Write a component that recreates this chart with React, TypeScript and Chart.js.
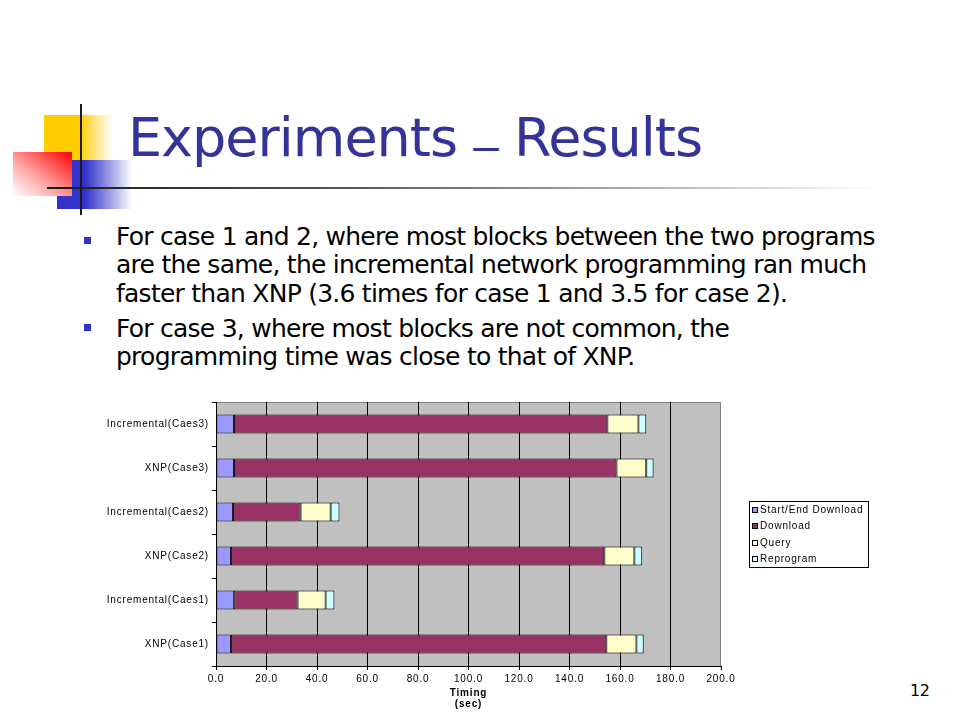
import React, { useEffect, useRef } from 'react';
import { Chart, registerables } from 'chart.js';

Chart.register(...registerables);

// ---- data ----
const categories = [
  'Incremental(Caes3)',
  'XNP(Case3)',
  'Incremental(Caes2)',
  'XNP(Case2)',
  'Incremental(Caes1)',
  'XNP(Case1)',
];
const seriesNames = ['Start/End Download', 'Download', 'Query', 'Reprogram'];
const startEndDownload = [7.1, 7.1, 6.7, 5.9, 7.2, 5.9];
const downloadTime = [147.9, 151.5, 26.8, 147.9, 25.1, 148.7];
const queryTime = [12.3, 11.8, 11.9, 11.9, 11.1, 11.9];
const reprogramTime = [3.1, 2.9, 3.5, 3.1, 3.5, 2.9];
const seriesColors = ['#9999ff', '#993366', '#ffffcc', '#ccffff'];
const xTickValues = [0, 20, 40, 60, 80, 100, 120, 140, 160, 180, 200];
const axisTitle = ['Timing', '(sec)'];

const bullets = [
  [
    'For case 1 and 2, where most blocks between the two programs',
    'are the same, the incremental network programming ran much',
    'faster than XNP (3.6 times for case 1 and 3.5 for case 2).',
  ],
  [
    'For case 3, where most blocks are not common, the',
    'programming time was close to that of XNP.',
  ],
];

const LETTER = '0.8px';
const FONT = '"Liberation Sans", Arial, sans-serif';

const excelPlot = {
  id: 'excelPlot',
  beforeLayout(chart: any) {
    chart.ctx.letterSpacing = LETTER;
  },
  beforeDraw(chart: any) {
    const { ctx, chartArea: a } = chart;
    ctx.letterSpacing = LETTER;
    ctx.save();
    ctx.fillStyle = '#c0c0c0';
    ctx.fillRect(a.left, a.top, a.right - a.left, a.bottom - a.top);
    ctx.strokeStyle = '#808080';
    ctx.lineWidth = 1;
    ctx.beginPath();
    ctx.moveTo(a.left, a.top + 0.5);
    ctx.lineTo(a.right - 0.5, a.top + 0.5);
    ctx.lineTo(a.right - 0.5, a.bottom);
    ctx.stroke();
    ctx.restore();
  },
  afterDraw(chart: any) {
    const { ctx, chartArea: a } = chart;
    const ds = chart.data.datasets;
    const rowH = 16.5;
    const boxW = 119;
    const boxH = Math.round(rowH * ds.length);
    const left = Math.round(a.right + 28);
    const top = Math.round((a.top + a.bottom) / 2 - boxH / 2);
    ctx.save();
    ctx.letterSpacing = LETTER;
    ctx.fillStyle = '#ffffff';
    ctx.fillRect(left, top, boxW, boxH);
    ctx.strokeStyle = '#000000';
    ctx.lineWidth = 1;
    ctx.strokeRect(left + 0.5, top + 0.5, boxW, boxH);
    ctx.font = `10px ${FONT}`;
    ctx.textBaseline = 'middle';
    ctx.textAlign = 'left';
    ds.forEach((d: any, i: number) => {
      const cy = top + rowH * (i + 0.5);
      const my = Math.round(cy - 2.5);
      ctx.fillStyle = d.backgroundColor;
      ctx.fillRect(left + 3, my, 5, 5);
      ctx.strokeStyle = '#000';
      ctx.strokeRect(left + 3.5, my + 0.5, 5, 5);
      ctx.fillStyle = '#000';
      ctx.fillText(d.label, left + 11, cy + 0.5);
    });
    ctx.restore();
  },
};

function BarChart() {
  const ref = useRef<HTMLCanvasElement>(null);
  useEffect(() => {
    if (!ref.current) return;
    Chart.defaults.font.family = FONT;
    const values = [startEndDownload, downloadTime, queryTime, reprogramTime];
    const chart = new Chart(ref.current, {
      type: 'bar',
      data: {
        labels: categories,
        datasets: seriesNames.map((name, i) => ({
          label: name,
          data: values[i],
          backgroundColor: seriesColors[i],
          borderColor: '#000000',
          borderWidth: 1,
          borderSkipped: false,
          barPercentage: 0.43,
          categoryPercentage: 1,
        })),
      },
      options: {
        indexAxis: 'y',
        animation: false,
        responsive: false,
        devicePixelRatio: 1,
        layout: { padding: { left: 0, top: 12, right: 159, bottom: 0 } },
        plugins: {
          legend: { display: false },
          tooltip: { enabled: false },
        },
        scales: {
          x: {
            stacked: true,
            min: 0,
            max: 200,
            afterBuildTicks: (scale: any) => {
              scale.ticks = xTickValues.map((v) => ({ value: v }));
            },
            afterFit: (scale: any) => {
              scale.height = 48;
            },
            ticks: {
              color: '#000',
              font: { size: 10 },
              padding: 3,
              maxRotation: 0,
              autoSkip: false,
              callback: (v: any) => Number(v).toFixed(1),
            },
            grid: {
              color: (c: any) => (c.tick && c.tick.value === 200 ? 'rgba(0,0,0,0)' : '#000'),
              tickColor: '#000',
              tickLength: 4,
              lineWidth: 1,
            },
            border: { display: true, color: '#000' },
            title: {
              display: true,
              text: axisTitle,
              color: '#000',
              font: { size: 10, weight: 'bold', lineHeight: 1.1 },
              padding: { top: 0, bottom: 4 },
            },
          },
          y: {
            stacked: true,
            afterFit: (scale: any) => {
              scale.width = 116;
            },
            ticks: { color: '#000', font: { size: 10 }, padding: 3 },
            grid: {
              display: true,
              offset: true,
              drawOnChartArea: false,
              drawTicks: true,
              tickLength: 4,
              color: '#000',
              tickColor: '#000',
            },
            border: { display: true, color: '#000' },
          },
        },
      },
      plugins: [excelPlot],
    } as any);
    return () => chart.destroy();
  }, []);
  return (
    <canvas
      ref={ref}
      width={780}
      height={324}
      style={{ position: 'absolute', left: 100, top: 390, width: 780, height: 324 }}
    />
  );
}

export default function App() {
  const textFont = '"DejaVu Sans", Verdana, sans-serif';
  return (
    <div
      style={{
        position: 'absolute',
        left: 0,
        top: 0,
        width: 960,
        height: 720,
        background: '#ffffff',
        overflow: 'hidden',
        fontFamily: textFont,
      }}
    >
      {/* logo decoration */}
      <div
        style={{
          position: 'absolute',
          left: 44,
          top: 115,
          width: 68,
          height: 45,
          background: 'linear-gradient(to right, #ffcc00 0%, #ffcc00 52%, rgba(255,204,0,0) 100%)',
        }}
      />
      <div
        style={{
          position: 'absolute',
          left: 57,
          top: 160,
          width: 75,
          height: 49,
          background: 'linear-gradient(to right, #3333cc 0%, #3333cc 38%, rgba(51,51,204,0) 100%)',
        }}
      />
      <div
        style={{
          position: 'absolute',
          left: 13,
          top: 152,
          width: 59,
          height: 44,
          background: 'linear-gradient(to top right, rgba(255,255,255,1) 0%, #ffaaaa 40%, #ff0000 100%)',
        }}
      />
      <div style={{ position: 'absolute', left: 80, top: 104, width: 2, height: 111, background: '#1a1a1a' }} />
      <div
        style={{
          position: 'absolute',
          left: 47,
          top: 187,
          width: 830,
          height: 2,
          background: 'linear-gradient(to right, #1a1a1a 0%, #555555 35%, #aaaaaa 70%, rgba(255,255,255,0) 100%)',
        }}
      />

      {/* title */}
      <div
        style={{
          position: 'absolute',
          left: 128,
          top: 111,
          fontSize: 54,
          lineHeight: '54px',
          letterSpacing: '-1px',
          color: '#333399',
          whiteSpace: 'nowrap',
        }}
      >
        Experiments{' '}
        <span
          style={{
            fontFamily: '"Liberation Sans", Arial, sans-serif',
            fontSize: 46,
            position: 'relative',
            top: 5,
          }}
        >
          –
        </span>{' '}
        Results
      </div>

      {/* bullets */}
      {bullets.map((lines, bi) => (
        <React.Fragment key={bi}>
          <div
            style={{
              position: 'absolute',
              left: 84,
              top: bi === 0 ? 237 : 324,
              width: 7,
              height: 7,
              background: '#3333cc',
            }}
          />
          <div
            style={{
              position: 'absolute',
              left: 116,
              top: bi === 0 ? 223 : 315,
              fontSize: 25,
              lineHeight: '28.3px',
              letterSpacing: '-0.75px',
              color: '#000',
              whiteSpace: 'nowrap',
            }}
          >
            {lines.map((l, li) => (
              <div key={li}>{l}</div>
            ))}
          </div>
        </React.Fragment>
      ))}

      <BarChart />

      {/* page number */}
      <div
        style={{
          position: 'absolute',
          left: 910,
          top: 683,
          fontSize: 16,
          lineHeight: '16px',
          letterSpacing: '-0.5px',
          color: '#000',
        }}
      >
        12
      </div>
    </div>
  );
}
